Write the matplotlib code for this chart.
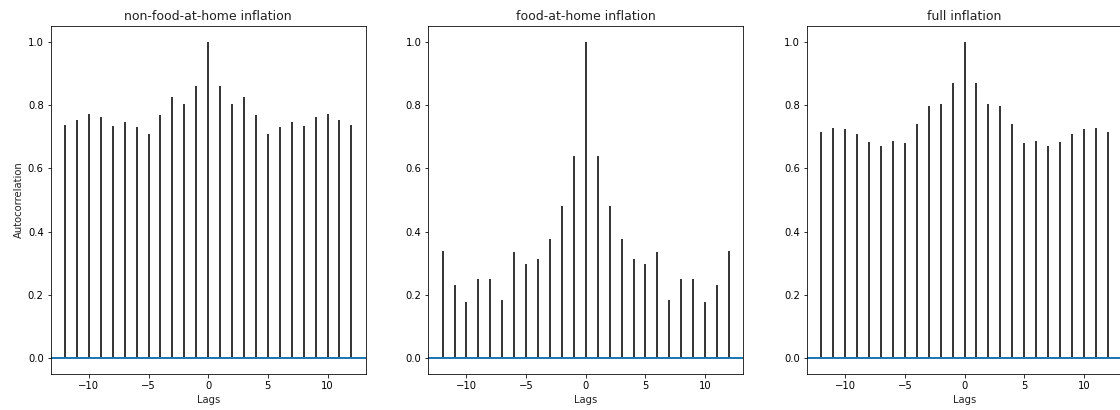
import numpy as np
import matplotlib
matplotlib.use("Agg")
import matplotlib.pyplot as plt

lags = list(range(-12, 13))

# autocorrelation at lags 1..12 (symmetric around lag 0)
nonfood_pos = [0.860, 0.805, 0.826, 0.768, 0.710, 0.731, 0.747, 0.734, 0.762, 0.771, 0.754, 0.738]
food_pos = [0.640, 0.480, 0.376, 0.315, 0.298, 0.335, 0.183, 0.251, 0.251, 0.179, 0.231, 0.339]
full_pos = [0.869, 0.802, 0.796, 0.741, 0.680, 0.687, 0.671, 0.684, 0.710, 0.724, 0.728, 0.714]

titles = ["non-food-at-home inflation", "food-at-home inflation", "full inflation"]


def sym(pos):
    return list(reversed(pos)) + [1.0] + list(pos)


series = [sym(nonfood_pos), sym(food_pos), sym(full_pos)]

fig = plt.figure(figsize=(1120 / 72, 410 / 72), dpi=72)
lefts = [50.7 / 1120, 428.3 / 1120, 807 / 1120]
w = 315 / 1120
b = (410 - 374) / 410
h = 348 / 410

for i, (vals, title) in enumerate(zip(series, titles)):
    ax = fig.add_axes([lefts[i], b, w, h])
    ax.vlines(lags, 0, vals, colors="#222222", lw=1.8)
    ax.axhline(0, color="C0", lw=2)
    ax.set_xlim(-13.2, 13.2)
    ax.set_ylim(-0.05, 1.05)
    ax.set_title(title, fontsize=12.5, color="#222222")
    ax.set_xlabel("Lags", color="#222222")
    if i == 0:
        ax.set_ylabel("Autocorrelation", color="#222222")

fig.savefig("out.png", dpi=72)
